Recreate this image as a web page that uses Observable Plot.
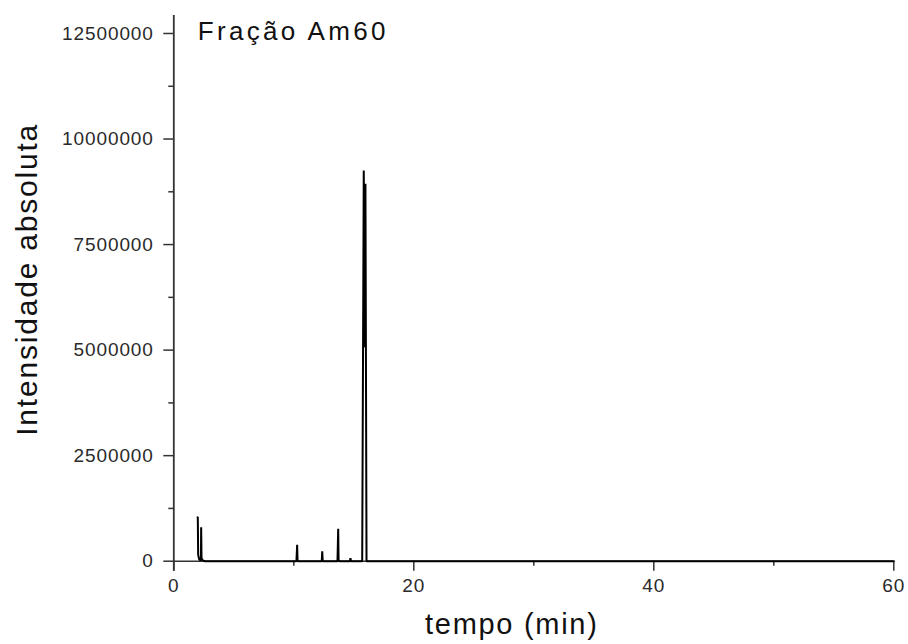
<!DOCTYPE html>
<html>
<head>
<meta charset="utf-8">
<script src="https://cdn.jsdelivr.net/npm/d3@7"></script>
<script src="https://cdn.jsdelivr.net/npm/@observablehq/plot@0.6"></script>
<style>
  html, body { margin: 0; padding: 0; background: #fff; }
  svg { display: block; }
</style>
</head>
<body>
<div id="chart"></div>
<script>
// ---- data ----
const tempo = [1.98, 2.00, 2.03, 2.12, 2.22, 2.26, 2.28, 2.31, 2.42, 2.62,
               10.22, 10.28, 10.31, 10.35,
               12.33, 12.37, 12.41,
               13.64, 13.70, 13.73, 13.78,
               14.67, 14.72, 14.77,
               15.70, 15.83, 15.93, 15.97, 16.06,
               60.0];
const intensidade = [1040000, 1040000, 150000, 40000, 20000, 30000, 805000, 80000, 15000, 0,
                     0, 391000, 30000, 0,
                     0, 237000, 0,
                     0, 767000, 40000, 0,
                     0, 70000, 0,
                     0, 9255000, 5069000, 8940000, 0,
                     0];

const xDomain = [0, 60];
const yDomain = [0, 12926000];
const xTicks = [0, 20, 40, 60];
const xMinorTicks = [10, 30, 50];
const yTicks = [0, 2500000, 5000000, 7500000, 10000000, 12500000];
const yMinorTicks = [1250000, 3750000, 6250000, 8750000, 11250000];

const titulo = "Fração Am60";
const rotuloX = "tempo (min)";
const rotuloY = "Intensidade absoluta";

const dados = tempo.map((t, i) => ({tempo: t, intensidade: intensidade[i]}));

const axisColor = "#333";

const chart = Plot.plot({
  width: 908,
  height: 644,
  marginLeft: 173.3,
  marginRight: 14.7,
  marginTop: 15,
  marginBottom: 83.3,
  style: {fontFamily: "'Liberation Sans', Arial, sans-serif", fontSize: "19px", color: "#222", background: "#fff"},
  x: {domain: xDomain},
  y: {domain: yDomain},
  marks: [
    // axis lines
    Plot.ruleX([xDomain[0]], {stroke: axisColor, strokeWidth: 1.8, insetBottom: -10}),
    Plot.ruleY([yDomain[0]], {x1: xDomain[0], x2: xDomain[1], stroke: axisColor, strokeWidth: 1.6}),
    // axes
    Plot.axisY({ticks: yTicks, tickSize: 10, tickPadding: 10, tickFormat: d => String(d), fontSize: 19, stroke: axisColor, strokeWidth: 1.5, fill: "#2a2a2a", label: null}),
    Plot.axisY({ticks: yMinorTicks, tickSize: 5, text: null, stroke: axisColor, strokeWidth: 1.5, label: null}),
    Plot.axisX({ticks: xTicks, tickSize: 10, tickPadding: 7, tickFormat: d => String(d), fontSize: 19, stroke: axisColor, strokeWidth: 1.5, fill: "#2a2a2a", label: null}),
    Plot.axisX({ticks: xMinorTicks, tickSize: 5, text: null, stroke: axisColor, strokeWidth: 1.5, label: null}),
    // chromatogram
    Plot.line(dados, {x: "tempo", y: "intensidade", stroke: "#000", strokeWidth: 2, strokeLinejoin: "miter"}),
    // texts
    Plot.text([titulo], {frameAnchor: "top-left", textAnchor: "start", lineAnchor: "bottom", dx: 24, dy: 24.5, fontSize: 26, fill: "#111"}),
    Plot.text([rotuloY], {frameAnchor: "left", textAnchor: "middle", lineAnchor: "bottom", rotate: -90, dx: -136.5, dy: -9, fontSize: 30, fill: "#111"}),
    Plot.text([rotuloX], {frameAnchor: "bottom", textAnchor: "middle", lineAnchor: "bottom", dx: -22, dy: 72.5, fontSize: 29, fill: "#111"})
  ]
});

// letter spacing to match the wide rendering of the original
const spacing = new Map([[titulo, "3.3px"], [rotuloY, "1.8px"], [rotuloX, "1.7px"]]);
d3.select(chart).selectAll("text").each(function() {
  const s = this.textContent;
  if (spacing.has(s)) this.style.letterSpacing = spacing.get(s);
  else if (/^\d+$/.test(s)) this.style.letterSpacing = "0.9px";
});
document.getElementById("chart").appendChild(chart);
</script>
</body>
</html>
